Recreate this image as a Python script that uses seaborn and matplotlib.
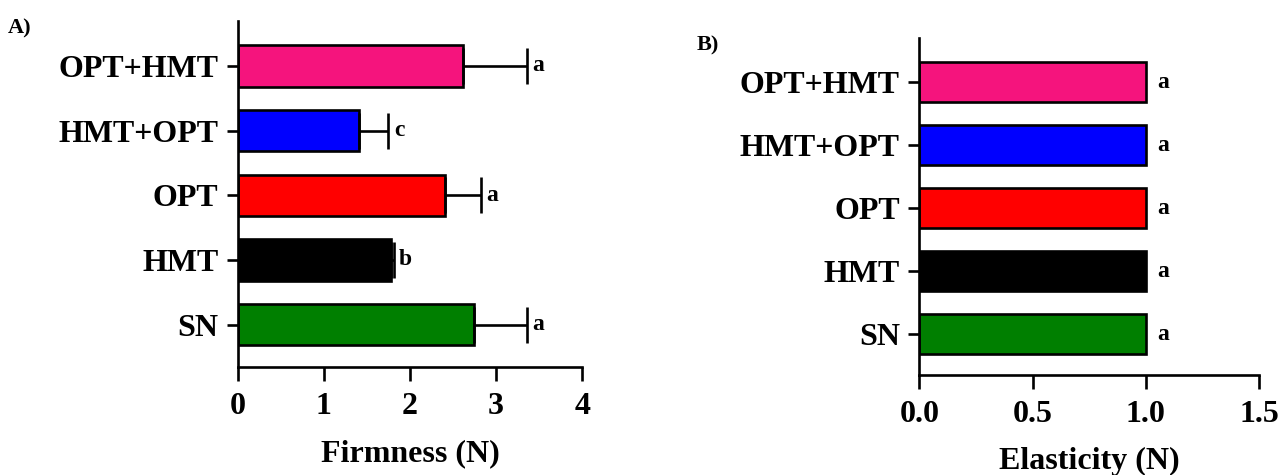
import numpy as np
import pandas as pd
import matplotlib
matplotlib.use('Agg')
import matplotlib.pyplot as plt
import seaborn as sns

# ── Data ───────────────────────────────────────────────
samples    = ['OPT+HMT', 'HMT+OPT', 'OPT', 'HMT', 'SN']
colors     = ['#F5147D', '#0000FF', '#FF0000', '#000000', '#007F00']
firmness   = [2.61, 1.41, 2.41, 1.78, 2.74]
firm_sd    = [0.75, 0.34, 0.41, 0.03, 0.62]
firm_lbl   = ['a', 'c', 'a', 'b', 'a']
elasticity = [1.0, 1.0, 1.0, 1.0, 1.0]
elast_lbl  = ['a', 'a', 'a', 'a', 'a']

sns.set_style('ticks', {'axes.edgecolor': 'black', 'text.color': 'black',
                        'xtick.color': 'black', 'ytick.color': 'black',
                        'axes.labelcolor': 'black'})
plt.rcParams['font.family'] = ['Liberation Serif', 'DejaVu Serif']
plt.rcParams['font.weight'] = 'bold'

fig = plt.figure(figsize=(12.8, 4.75), dpi=100)
ax1 = fig.add_axes([0.1857, 0.228, 0.2692, 0.7284])
ax2 = fig.add_axes([0.7182, 0.2105, 0.2654, 0.709])

df = pd.DataFrame({'sample': samples, 'firm': firmness, 'elast': elasticity})
pal = dict(zip(samples, colors))

FS = 23


def style_axis(ax, xlim, xticks, fmt, xlabel):
    ax.set_xlim(*xlim)
    ax.set_xticks(xticks)
    ax.set_xticklabels([fmt.format(t) for t in xticks])
    ax.set_ylim(4.65, -0.7)
    ax.set_ylabel('')
    ax.set_xlabel(xlabel, fontsize=FS, fontweight='bold', labelpad=13)
    for s in ['top', 'right']:
        ax.spines[s].set_visible(False)
    for s in ['left', 'bottom']:
        ax.spines[s].set_linewidth(1.9)
    ax.tick_params(axis='y', length=8, width=1.9, pad=6, labelsize=FS)
    ax.tick_params(axis='x', length=10, width=1.9, pad=8, labelsize=FS)
    for lab in ax.get_xticklabels() + ax.get_yticklabels():
        lab.set_fontweight('bold')


# ── A) Firmness ────────────────────────────────────────
sns.barplot(data=df, x='firm', y='sample', hue='sample', palette=pal,
            order=samples, orient='h', width=0.64, legend=False,
            saturation=1, edgecolor='black', linewidth=1.9, ax=ax1)
ypos = np.arange(len(samples))
ax1.errorbar(firmness, ypos, xerr=[np.zeros(len(samples)), firm_sd],
             fmt='none', ecolor='black', elinewidth=1.9, capsize=13,
             capthick=1.9, zorder=1)
for y, v, sd, t in zip(ypos, firmness, firm_sd, firm_lbl):
    ax1.annotate(t, (v + sd, y), xytext=(4, 0), textcoords='offset points',
                 ha='left', va='center', fontsize=17, fontweight='bold')
style_axis(ax1, (0, 4), [0, 1, 2, 3, 4], '{:.0f}', 'Firmness (N)')

# ── B) Elasticity ──────────────────────────────────────
sns.barplot(data=df, x='elast', y='sample', hue='sample', palette=pal,
            order=samples, orient='h', width=0.64, legend=False,
            saturation=1, edgecolor='black', linewidth=1.9, ax=ax2)
for y, v, t in zip(ypos, elasticity, elast_lbl):
    ax2.annotate(t, (v, y), xytext=(8, 0), textcoords='offset points',
                 ha='left', va='center', fontsize=17, fontweight='bold')
style_axis(ax2, (0, 1.5), [0.0, 0.5, 1.0, 1.5], '{:.1f}', 'Elasticity (N)')

fig.text(0.006, 0.94, 'A)', fontsize=16, fontweight='bold', va='center')
fig.text(0.544, 0.905, 'B)', fontsize=16, fontweight='bold', va='center')

fig.savefig('out.png', dpi=100)
